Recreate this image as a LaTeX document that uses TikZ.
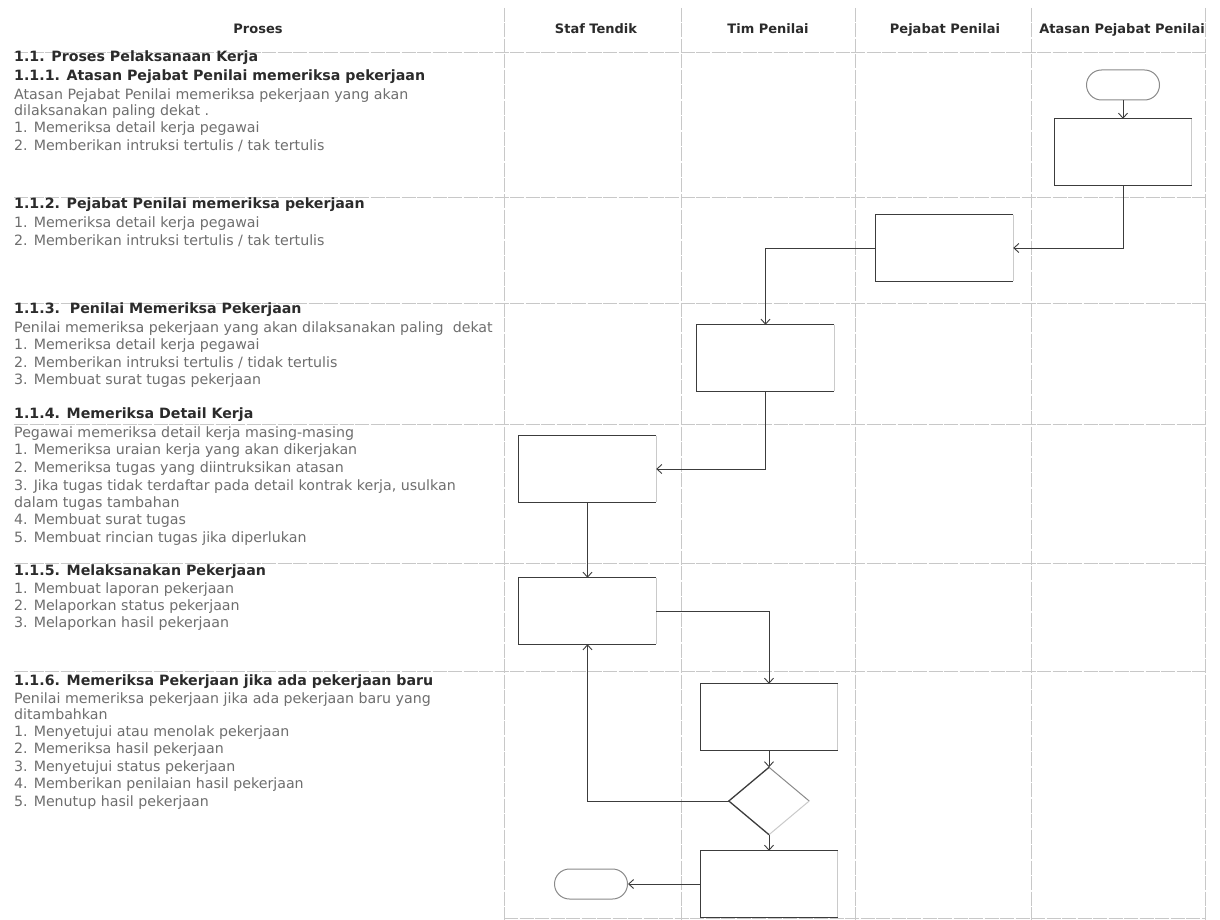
\documentclass[tikz,border=0pt]{standalone}
\usepackage{fontspec}
\setmainfont{DejaVu Sans}
\usetikzlibrary{arrows.meta,shapes.geometric}
\definecolor{inkc}{HTML}{2B2B2B}
\definecolor{bodyc}{HTML}{6E6E6E}
\definecolor{gridc}{HTML}{C8C8C8}
\definecolor{linec}{HTML}{3C3C3C}
\definecolor{fadec}{HTML}{CACACA}
\definecolor{midc}{HTML}{8A8A8A}
\begin{document}
\begin{tikzpicture}[x=1pt,y=-1pt,
  lanehead/.style={font=\fontsize{13}{15}\selectfont\bfseries, text=inkc, anchor=base, inner sep=0pt},
  headtxt/.style={font=\fontsize{14.2}{16}\selectfont\bfseries, text=inkc, anchor=base west, inner sep=0pt},
  bodytxt/.style={font=\fontsize{14.2}{16}\selectfont, text=bodyc, anchor=base west, inner sep=0pt},
  gridline/.style={draw=gridc, line width=0.7pt, dash pattern=on 14pt off 1.5pt},
  procbox/.style={rectangle, minimum width=137pt, minimum height=66pt, inner sep=0pt},
  termbox/.style={rectangle, rounded corners=15pt, draw=midc, line width=1pt, minimum width=73pt, minimum height=30pt, inner sep=0pt},
  decbox/.style={diamond, minimum width=80pt, minimum height=67pt, inner sep=0pt},
  edgeside/.style={draw=linec, line width=1.3pt},
  fadeside/.style={draw=fadec, line width=1pt},
  flow/.style={draw=linec, line width=0.9pt, -{Straight Barb[length=5pt,width=9pt]}},
]
\fill[white] (0,0) rectangle (1220,920);
\useasboundingbox (0,0) rectangle (1220,920);

% grid
\foreach \y in {52,197,303,424,563,671}
  \draw[gridline] (14,\y) -- (1205,\y);
\draw[gridline] (504,918) -- (1205,918);
\foreach \x in {504,681,855,1031,1205}
  \draw[gridline] (\x,8) -- (\x,920);

% lane headers
\node[lanehead] (hproses) at (258,34) {Proses};
\node[lanehead] (hstaf) at (596,34) {Staf Tendik};
\node[lanehead] (htim) at (768,34) {Tim Penilai};
\node[lanehead] (hpej) at (945,34) {Pejabat Penilai};
\node[lanehead] (hatas) at (1122,34) {Atasan Pejabat Penilai};

% headings
\node[headtxt] (h0) at (14,62) {1.1. Proses Pelaksanaan Kerja};
\node[headtxt] (h1) at (14,81) {1.1.1. Atasan Pejabat Penilai memeriksa pekerjaan};
\node[headtxt] (h2) at (14,208) {1.1.2. Pejabat Penilai memeriksa pekerjaan};
\node[headtxt] (h3) at (14,313) {1.1.3.\ \ Penilai Memeriksa Pekerjaan};
\node[headtxt] (h4) at (14,418) {1.1.4. Memeriksa Detail Kerja};
\node[headtxt] (h5) at (14,575) {1.1.5. Melaksanakan Pekerjaan};
\node[headtxt] (h6) at (14,685) {1.1.6. Memeriksa Pekerjaan jika ada pekerjaan baru};

% body lines
\node[bodytxt] (b1) at (14,100) {Atasan Pejabat Penilai memeriksa pekerjaan yang akan};
\node[bodytxt] (b2) at (14,116) {dilaksanakan paling dekat .};
\node[bodytxt] (b3) at (14,133) {1. Memeriksa detail kerja pegawai};
\node[bodytxt] (b4) at (14,151) {2. Memberikan intruksi tertulis / tak tertulis};
\node[bodytxt] (b5) at (14,227) {1. Memeriksa detail kerja pegawai};
\node[bodytxt] (b6) at (14,245) {2. Memberikan intruksi tertulis / tak tertulis};
\node[bodytxt] (b7) at (14,332) {Penilai memeriksa pekerjaan yang akan dilaksanakan paling\ \ dekat};
\node[bodytxt] (b8) at (14,349) {1. Memeriksa detail kerja pegawai};
\node[bodytxt] (b9) at (14,367) {2. Memberikan intruksi tertulis / tidak tertulis};
\node[bodytxt] (b10) at (14,384) {3. Membuat surat tugas pekerjaan};
\node[bodytxt] (b11) at (14,437) {Pegawai memeriksa detail kerja masing-masing};
\node[bodytxt] (b12) at (14,454) {1. Memeriksa uraian kerja yang akan dikerjakan};
\node[bodytxt] (b13) at (14,472) {2. Memeriksa tugas yang diintruksikan atasan};
\node[bodytxt] (b14) at (14,490) {3. Jika tugas tidak terdaftar pada detail kontrak kerja, usulkan};
\node[bodytxt] (b15) at (14,507) {dalam tugas tambahan};
\node[bodytxt] (b16) at (14,524) {4. Membuat surat tugas};
\node[bodytxt] (b17) at (14,542) {5. Membuat rincian tugas jika diperlukan};
\node[bodytxt] (b18) at (14,593) {1. Membuat laporan pekerjaan};
\node[bodytxt] (b19) at (14,610) {2. Melaporkan status pekerjaan};
\node[bodytxt] (b20) at (14,627) {3. Melaporkan hasil pekerjaan};
\node[bodytxt] (b21) at (14,703) {Penilai memeriksa pekerjaan jika ada pekerjaan baru yang};
\node[bodytxt] (b22) at (14,719) {ditambahkan};
\node[bodytxt] (b23) at (14,736) {1. Menyetujui atau menolak pekerjaan};
\node[bodytxt] (b24) at (14,753) {2. Memeriksa hasil pekerjaan};
\node[bodytxt] (b25) at (14,771) {3. Menyetujui status pekerjaan};
\node[bodytxt] (b26) at (14,788) {4. Memberikan penilaian hasil pekerjaan};
\node[bodytxt] (b27) at (14,806) {5. Menutup hasil pekerjaan};

% flow shapes
\node[termbox] (start) at (1123,85) {};
\node[procbox] (A) at (1123,152) {};
\node[procbox] (B) at (944.5,248) {};
\node[procbox] (C) at (765.5,358) {};
\node[procbox] (D) at (587.5,469) {};
\node[procbox] (E) at (587.5,611) {};
\node[procbox] (F) at (769,717) {};
\node[decbox] (dec) at (769,801) {};
\node[procbox] (G) at (769,884) {};
\node[termbox] (stop) at (591,884) {};

\foreach \b in {A,B,C,D,E,F,G}{
  \draw[fadeside] (\b.north east) -- (\b.south east);
  \draw[edgeside] (\b.north east) -- (\b.north west) -- (\b.south west) -- (\b.south east);
}
\draw[draw=midc, line width=1pt] (dec.north) -- (dec.east);
\draw[fadeside] (dec.east) -- (dec.south);
\draw[edgeside] (dec.north) -- (dec.west) -- (dec.south);

% connectors
\draw[flow] (start.south) -- (A.north);
\draw[flow] (A.south) |- (B.east);
\draw[flow] (B.west) -| (C.north);
\draw[flow] (C.south) |- (D.east);
\draw[flow] (D.south) -- (E.north);
\draw[flow] (E.east) -| (F.north);
\draw[flow] (F.south) -- (dec.north);
\draw[flow] (dec.west) -| (E.south);
\draw[flow] (dec.south) -- (G.north);
\draw[flow] (G.west) -- (stop.east);
\end{tikzpicture}
\end{document}
